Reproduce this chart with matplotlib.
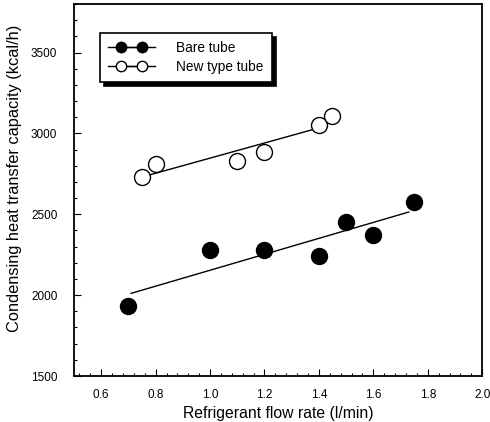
import numpy as np
import matplotlib
matplotlib.use("Agg")
import matplotlib.pyplot as plt
from matplotlib.lines import Line2D
from matplotlib.legend_handler import HandlerLine2D, HandlerTuple
from matplotlib.ticker import AutoMinorLocator

plt.rcParams['font.family'] = ['Liberation Sans', 'DejaVu Sans']

# Bare tube
bare_x = [0.70, 1.00, 1.20, 1.40, 1.50, 1.60, 1.75]
bare_y = [1935, 2282, 2282, 2239, 2455, 2369, 2575]
bare_fit_x = [0.71, 1.73]  # extent of drawn fit line

# New type tube
new_x = [0.75, 0.80, 1.10, 1.20, 1.40, 1.45]
new_y = [2730, 2810, 2829, 2882, 3054, 3105]
new_fit_x = [0.78, 1.39]

x_ticks = [0.6, 0.8, 1.0, 1.2, 1.4, 1.6, 1.8, 2.0]
y_ticks = [1500, 2000, 2500, 3000, 3500]


def main():
    fig = plt.figure(figsize=(4.9, 4.22), dpi=100)
    ax = fig.add_axes([0.151, 0.109, 0.833, 0.8815])

    # least-squares lines through each series
    for xs, ys, fx in [(bare_x, bare_y, bare_fit_x), (new_x, new_y, new_fit_x)]:
        p = np.polyfit(xs, ys, 1)
        fx = np.array(fx)
        ax.plot(fx, np.polyval(p, fx), color='k', lw=1.0, zorder=2)

    ax.plot(bare_x, bare_y, 'o', color='k', mfc='k', ms=11.5, ls='none', zorder=3)
    ax.plot(new_x, new_y, 'o', color='k', mfc='white', mew=1.0, ms=11.5, ls='none', zorder=3)

    ax.set_xlim(0.5, 2.0)
    ax.set_ylim(1500, 3800)
    ax.set_xticks(x_ticks)
    ax.set_xticklabels([f'{v:.1f}' for v in x_ticks])
    ax.set_yticks(y_ticks)
    ax.xaxis.set_minor_locator(AutoMinorLocator(5))
    ax.yaxis.set_minor_locator(AutoMinorLocator(5))
    ax.tick_params(which='both', direction='in', labelsize=8.5, width=0.8)
    ax.tick_params(which='major', length=5)
    ax.tick_params(axis='x', which='major', pad=9)
    ax.tick_params(axis='y', which='major', pad=12)
    ax.tick_params(which='minor', length=2.5)
    for s in ax.spines.values():
        s.set_linewidth(1.3)

    ax.set_xlabel('Refrigerant flow rate (l/min)', fontsize=11.3, labelpad=4)
    ax.set_ylabel('Condensing heat transfer capacity (kcal/h)', fontsize=11.8)
    ax.yaxis.set_label_coords(-0.128, 0.53)

    ln = Line2D([], [], color='k', lw=1)
    m1 = Line2D([], [], marker='o', color='k', mfc='k', ms=7.5, lw=1)
    m2 = Line2D([], [], marker='o', color='k', mfc='white', ms=7.5, lw=1)
    h_line = HandlerLine2D(numpoints=2, marker_pad=0)
    h_mark = HandlerLine2D(numpoints=2, marker_pad=0.9)
    leg = ax.legend([(ln, m1), (ln, m2)], ['Bare tube', 'New type tube'],
                    loc='upper left', bbox_to_anchor=(0.064, 0.922), borderaxespad=0,
                    fontsize=9.8, handlelength=3.4, handletextpad=1.6,
                    fancybox=False, edgecolor='k', framealpha=1,
                    shadow={'ox': 3, 'oy': -3, 'color': 'black', 'alpha': 1},
                    handler_map={ln: h_line, m1: h_mark, m2: h_mark,
                                 tuple: HandlerTuple(ndivide=1)},
                    borderpad=0.6, labelspacing=0.35)
    leg.get_frame().set_linewidth(1.2)

    fig.savefig('out.png', dpi=100)


if __name__ == '__main__':
    main()
